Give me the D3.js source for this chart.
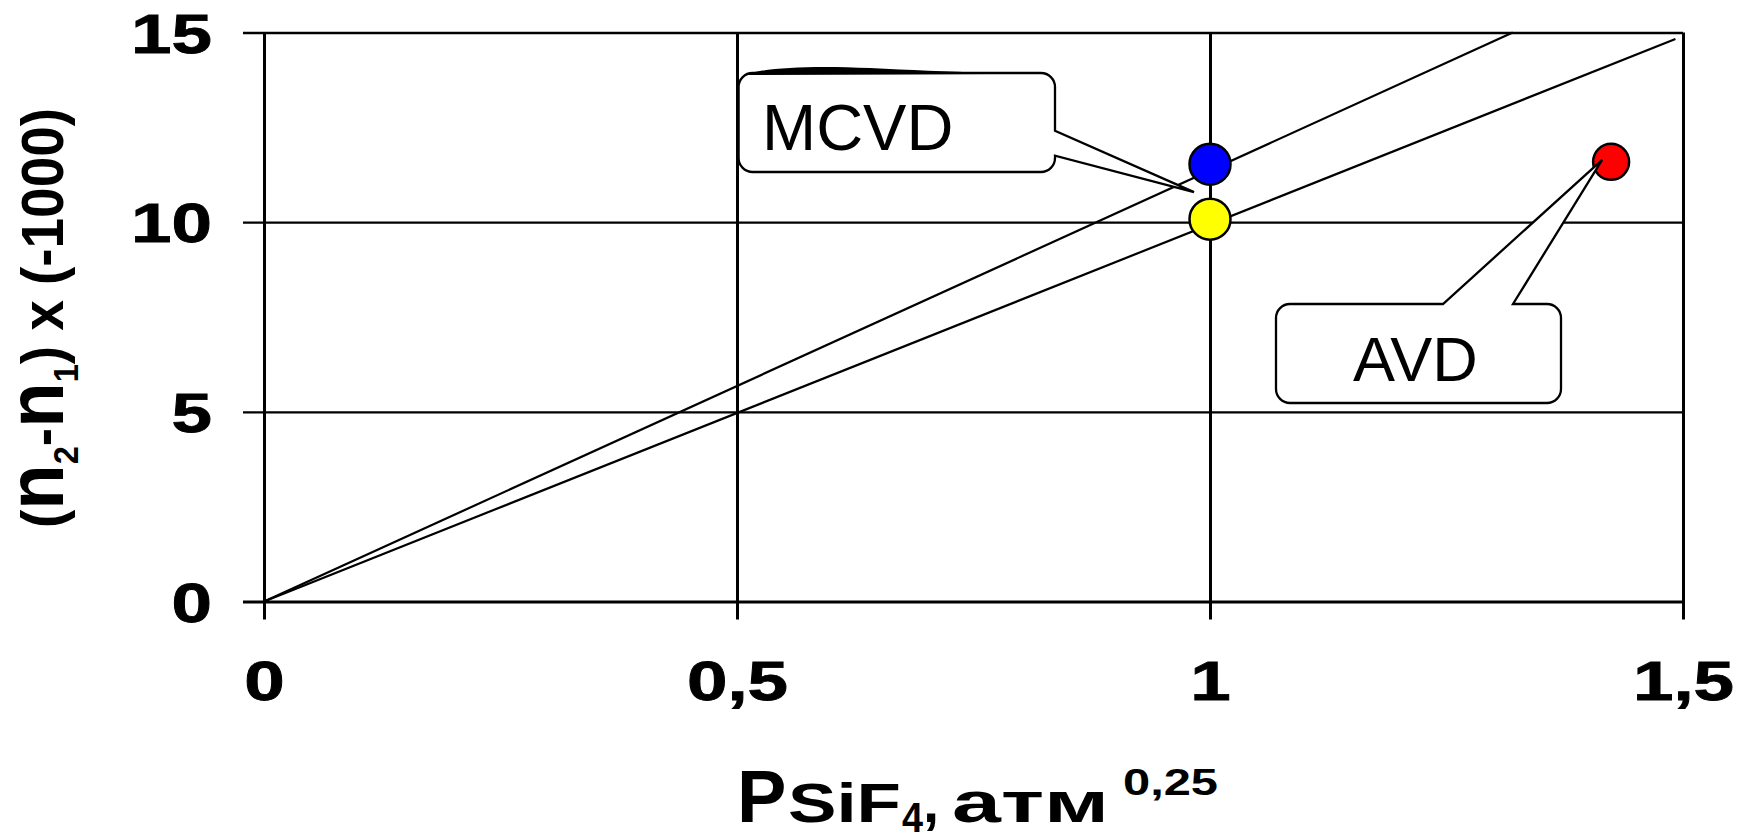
<!DOCTYPE html>
<html>
<head>
<meta charset="utf-8">
<script src="https://cdn.jsdelivr.net/npm/d3@7"></script>
<style>
body { margin: 0; background: #fff; }
text { font-family: Arial, "Liberation Sans", sans-serif; fill: #000; }
</style>
</head>
<body>
<script>
// chart values
var xTicks = [0, 0.5, 1, 1.5]
var yTicks = [0, 5, 10, 15]
var fitLines = [
    [[0, 0], [1.32, 15]],
    [[0, 0], [1.492, 14.83]]
]
var sampleNames = ['MCVD', 'MCVD', 'AVD']
var sampleX = [1.0, 1.0, 1.424]
var sampleY = [11.53, 10.08, 11.59]
var sampleColors = ['#0000ff', '#ffff00', '#ff0000']
var calloutLabels = ['MCVD', 'AVD']

var W = 1745, H = 837
var x = d3.scaleLinear().domain([0, 1.5]).range([264, 1683])
var y = d3.scaleLinear().domain([0, 15]).range([601.5, 32.5])
var stretch = 1.3

function comma(d) {
    return String(d).replace('.', ',')
}

var svg = d3.select('body').append('svg')
    .attr('width', W)
    .attr('height', H)

// x axis with vertical grid
var gx = svg.append('g')
    .attr('transform', 'translate(0,' + y(0) + ')')
    .call(d3.axisBottom(x).tickValues(xTicks).tickFormat(comma).tickSize(18))
gx.select('.domain').remove()
gx.selectAll('.tick line')
    .attr('y1', y(15) - y(0))
    .attr('y2', 18)
    .attr('stroke', '#000')
    .attr('stroke-width', 3)
gx.selectAll('.tick text')
    .attr('y', 99)
    .attr('dy', 0)
    .attr('transform', 'scale(' + stretch + ',1)')
    .attr('stroke', '#000')
    .attr('stroke-width', 0.8)
    .style('font-size', '56px')
    .style('font-weight', 'bold')
    .style('font-family', 'Arial, "Liberation Sans", sans-serif')

// y axis with horizontal grid
var gy = svg.append('g')
    .attr('transform', 'translate(' + x(0) + ',0)')
    .call(d3.axisLeft(y).tickValues(yTicks).tickFormat(comma).tickSize(21))
gy.select('.domain').remove()
gy.selectAll('.tick line')
    .attr('x1', -21)
    .attr('x2', x(1.5) - x(0))
    .attr('stroke', '#000')
    .attr('stroke-width', function (d) { return d === 0 ? 3 : 2.3 })
gy.selectAll('.tick text')
    .attr('x', -52 / stretch)
    .attr('dy', 19.5)
    .attr('transform', 'scale(' + stretch + ',1)')
    .attr('stroke', '#000')
    .attr('stroke-width', 0.8)
    .style('font-size', '56px')
    .style('font-weight', 'bold')
    .style('font-family', 'Arial, "Liberation Sans", sans-serif')

// fit lines
var line = d3.line()
    .x(function (d) { return x(d[0]) })
    .y(function (d) { return y(d[1]) })
svg.selectAll('path.fit')
    .data(fitLines)
    .enter()
    .append('path')
    .attr('class', 'fit')
    .attr('d', line)
    .attr('fill', 'none')
    .attr('stroke', '#000')
    .attr('stroke-width', 2.2)

// sample points
svg.selectAll('circle.sample')
    .data(sampleX)
    .enter()
    .append('circle')
    .attr('class', 'sample')
    .attr('cx', function (d) { return x(d) })
    .attr('cy', function (d, i) { return y(sampleY[i]) })
    .attr('r', function (d, i) { return sampleNames[i] === 'AVD' ? 18 : 20.5 })
    .attr('fill', function (d, i) { return sampleColors[i] })
    .attr('stroke', '#000')
    .attr('stroke-width', 2.5)

// callouts
function corner(r) {
    return ' A' + r + ',' + r + ' 0 0 1 '
}

var mTip = [x(sampleX[0]) - 16, (y(sampleY[0]) + y(sampleY[1])) / 2 + 0.5]
var mL = 738.6, mR = 1055, mT = 73, mB = 172, r = 14
var mPath = 'M' + (mL + r) + ',' + mT + ' H' + (mR - r) + corner(r) + mR + ',' + (mT + r) +
    ' V130.7 L' + mTip[0] + ',' + mTip[1] + ' L' + mR + ',155.7' +
    ' V' + (mB - r) + corner(r) + (mR - r) + ',' + mB +
    ' H' + (mL + r) + corner(r) + mL + ',' + (mB - r) +
    ' V' + (mT + r) + corner(r) + (mL + r) + ',' + mT + ' Z'
svg.append('path')
    .attr('d', mPath)
    .attr('fill', '#fff')
    .attr('stroke', '#000')
    .attr('stroke-width', 2.3)
svg.append('path')
    .attr('d', 'M745,75 C765,67 815,65.5 870,68 C910,70 945,71.5 990,73 L990,74 Z')
    .attr('fill', '#000')
svg.append('text')
    .attr('x', 762)
    .attr('y', 150)
    .style('font-size', '65px')
    .text(calloutLabels[0])

var aTip = [x(sampleX[2]) - 9, y(sampleY[2]) - 2]
var aL = 1276, aR = 1561, aT = 304, aB = 403
var aPath = 'M' + (aL + r) + ',' + aT + ' H1443 L' + aTip[0] + ',' + aTip[1] + ' L1513,' + aT +
    ' H' + (aR - r) + corner(r) + aR + ',' + (aT + r) +
    ' V' + (aB - r) + corner(r) + (aR - r) + ',' + aB +
    ' H' + (aL + r) + corner(r) + aL + ',' + (aB - r) +
    ' V' + (aT + r) + corner(r) + (aL + r) + ',' + aT + ' Z'
svg.append('path')
    .attr('d', aPath)
    .attr('fill', '#fff')
    .attr('stroke', '#000')
    .attr('stroke-width', 2.3)
svg.append('text')
    .attr('x', 1353)
    .attr('y', 381)
    .style('font-size', '63px')
    .text(calloutLabels[1])

// y axis title
var yt = svg.append('g')
    .attr('transform', 'translate(63,528) rotate(-90)')
    .append('text')
    .attr('x', 0)
    .attr('y', 0)
    .attr('textLength', 420)
    .attr('lengthAdjust', 'spacingAndGlyphs')
    .style('font-size', '59px')
    .style('font-weight', 'bold')
yt.append('tspan').text('(')
yt.append('tspan').style('font-size', '80px').text('n')
yt.append('tspan').style('font-size', '35px').attr('dy', 15).text('2')
yt.append('tspan').attr('dy', -15).text('-')
yt.append('tspan').style('font-size', '80px').text('n')
yt.append('tspan').style('font-size', '35px').attr('dy', 15).text('1')
yt.append('tspan').attr('dy', -15).text(') x (-1000)')

// x axis title
var xt = svg.append('g').style('font-weight', 'bold')
xt.append('text').attr('x', 737).attr('y', 822).style('font-size', '74px').text('P')
xt.append('text').attr('x', 788).attr('y', 822).attr('textLength', 113)
    .attr('lengthAdjust', 'spacingAndGlyphs').style('font-size', '56px').text('SiF')
xt.append('text').attr('x', 902).attr('y', 832).attr('textLength', 21)
    .attr('lengthAdjust', 'spacingAndGlyphs').style('font-size', '42px').text('4')
xt.append('text').attr('x', 923).attr('y', 822).style('font-size', '58px').text(',')
xt.append('text').attr('x', 952).attr('y', 822).attr('textLength', 157)
    .attr('lengthAdjust', 'spacingAndGlyphs').style('font-size', '58px').text('атм')
xt.append('text').attr('x', 1123).attr('y', 795).attr('textLength', 95)
    .attr('lengthAdjust', 'spacingAndGlyphs').style('font-size', '37px').text('0,25')
</script>
</body>
</html>
